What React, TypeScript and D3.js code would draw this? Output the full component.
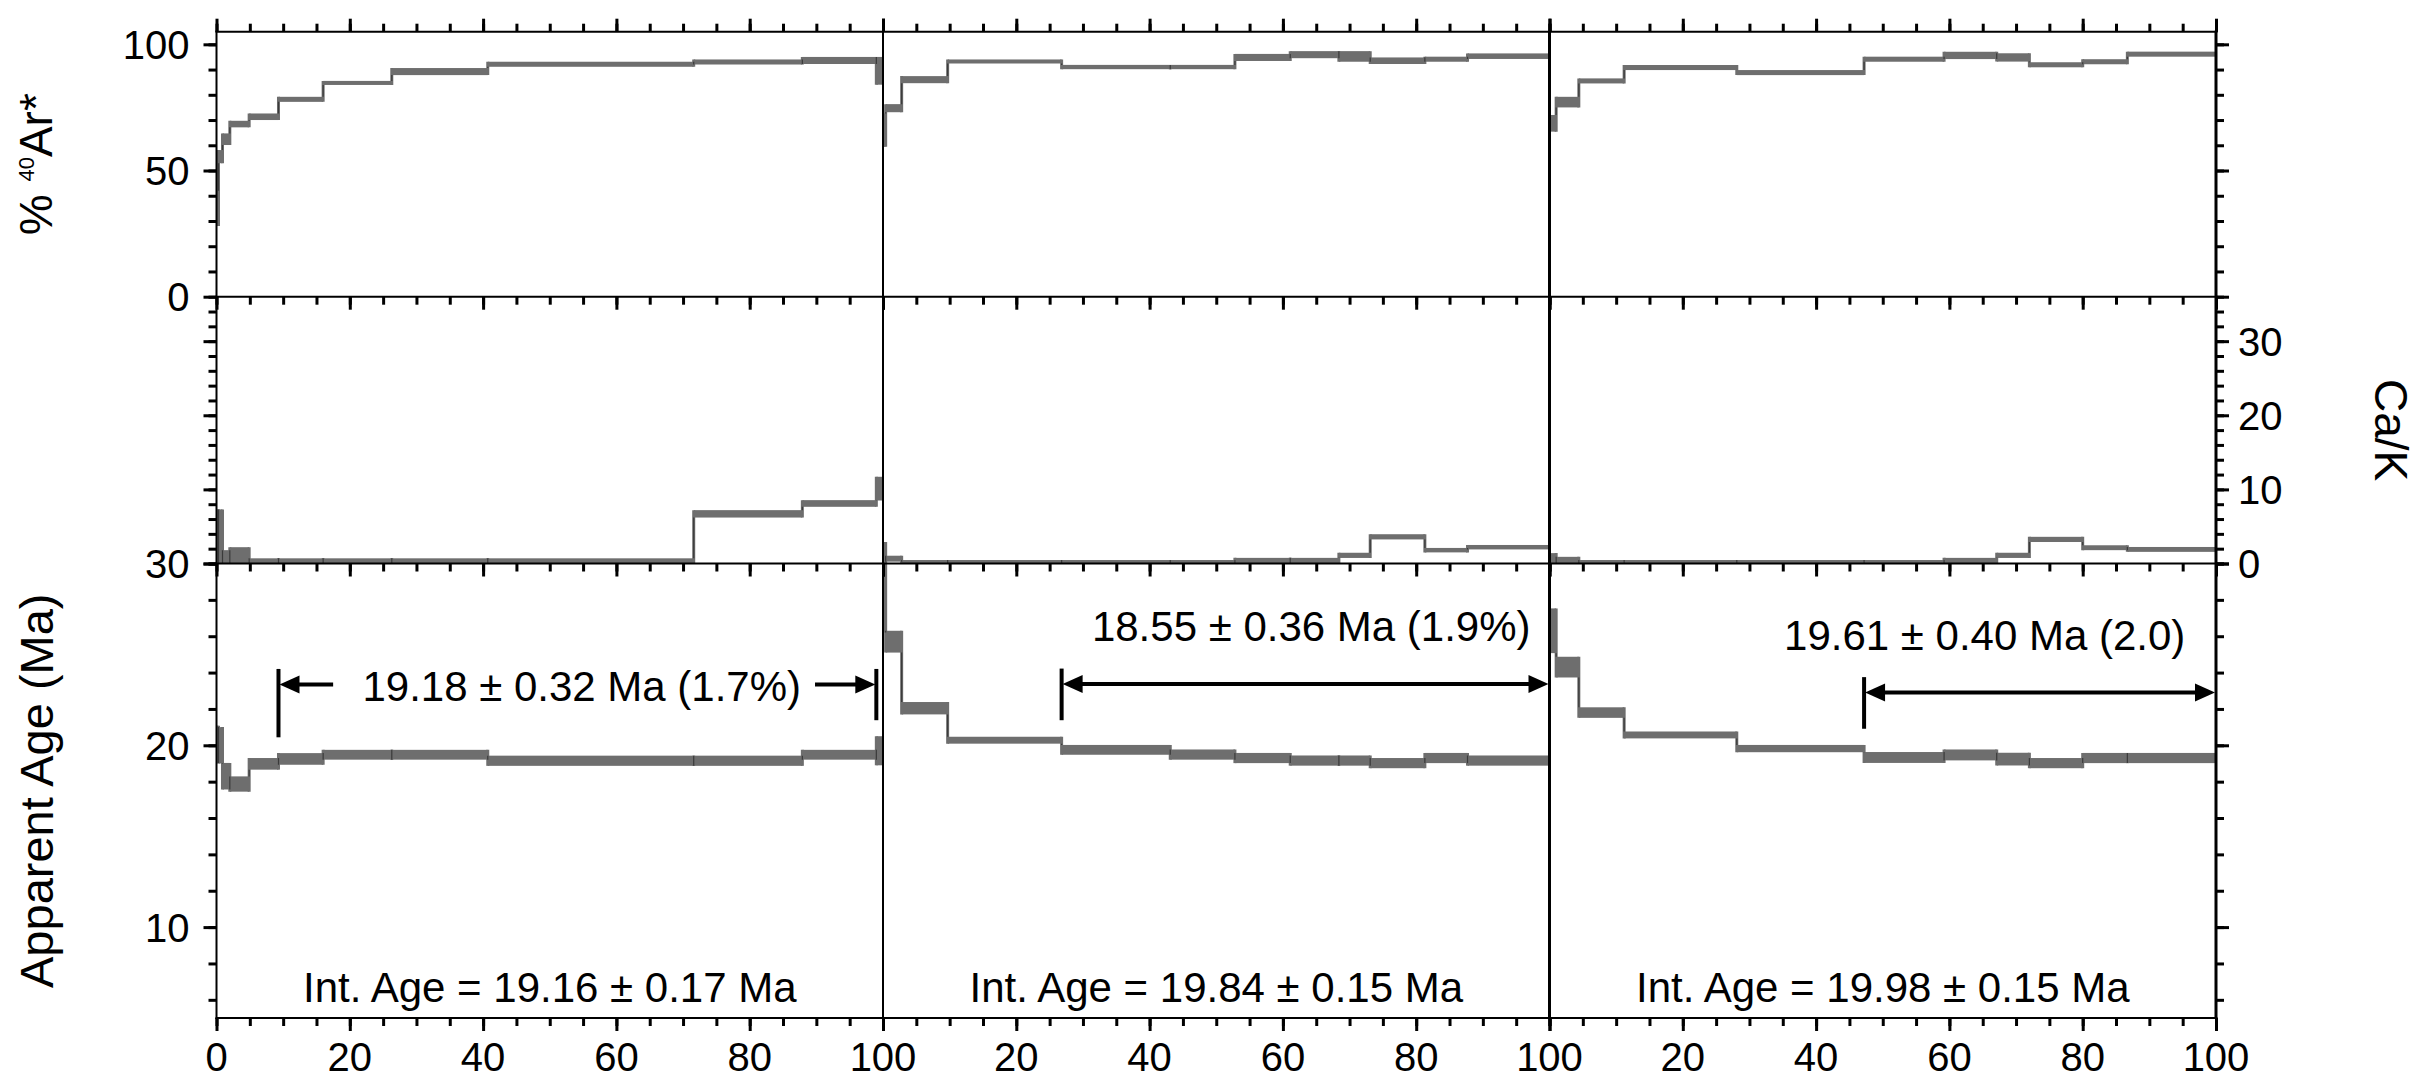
import React, { useEffect, useRef } from 'react';
import * as d3 from 'd3';

// step boundaries, cumulative % 39Ar released
const steps1 = [0, 0.3, 0.9, 2.0, 4.9, 9.3, 16.0, 26.3, 40.7, 71.6, 87.9, 99.0, 100];
const steps2 = [0, 0.4, 2.8, 9.7, 26.8, 43.1, 52.8, 61.1, 68.4, 73.1, 81.3, 87.7, 100];
const steps3 = [0, 1.0, 4.4, 11.2, 28.1, 47.2, 59.2, 67.1, 72.0, 80.0, 86.7, 100];

// % radiogenic 40Ar
const ar1 = [35, 55.5, 62.4, 68.4, 71.3, 78.2, 84.7, 89.2, 92.1, 93.0, 93.6, 89.5];
const ar1Err = [7, 2.6, 2.3, 1.3, 1.3, 1.0, 0.8, 1.4, 1.0, 1.0, 1.4, 5.5];
const ar2 = [66, 74.7, 86.0, 93.2, 91.0, 91.0, 94.8, 95.9, 95.2, 93.5, 94.1, 95.3];
const ar2Err = [6.6, 1.6, 1.4, 0.8, 0.85, 0.85, 1.4, 1.4, 2.1, 1.3, 1.0, 1.1];
const ar3 = [68.7, 77.1, 85.5, 90.8, 88.8, 94.1, 95.6, 94.8, 91.9, 93.1, 96.1];
const ar3Err = [3.3, 2.1, 1.0, 1.0, 1.0, 1.0, 1.45, 1.65, 1.0, 1.0, 1.0];

// Ca/K
const caK1 = [3.65, 3.65, 0.9, 1.1, 0.35, 0.35, 0.35, 0.35, 0.35, 6.7, 8.1, 10.1];
const caK1Err = [3.65, 3.65, 0.9, 1.1, 0.35, 0.35, 0.35, 0.35, 0.35, 0.5, 0.45, 1.6];
const caK2 = [1.45, 0.65, 0.2, 0.2, 0.2, 0.2, 0.38, 0.38, 1.1, 3.6, 1.8, 2.2];
const caK2Err = [1.45, 0.4, 0.2, 0.2, 0.2, 0.2, 0.38, 0.38, 0.35, 0.35, 0.3, 0.3];
const caK3 = [0.7, 0.45, 0.2, 0.2, 0.2, 0.2, 0.38, 1.1, 3.25, 2.13, 1.9];
const caK3Err = [0.7, 0.45, 0.2, 0.2, 0.2, 0.2, 0.38, 0.35, 0.35, 0.33, 0.33];

// apparent age (Ma)
const age1 = [20.05, 20.0, 18.3, 17.87, 18.98, 19.25, 19.48, 19.48, 19.15, 19.15, 19.48, 19.7];
const age1Err = [1.03, 1.0, 0.73, 0.42, 0.32, 0.32, 0.27, 0.27, 0.28, 0.28, 0.27, 0.8];
const age2 = [28.5, 25.7, 22.04, 20.28, 19.75, 19.49, 19.3, 19.16, 19.16, 19.02, 19.3, 19.16];
const age2Err = [2.3, 0.6, 0.34, 0.19, 0.27, 0.28, 0.28, 0.28, 0.28, 0.28, 0.28, 0.28];
const age3 = [26.3, 24.3, 21.8, 20.57, 19.82, 19.33, 19.47, 19.24, 19.02, 19.3, 19.3];
const age3Err = [1.23, 0.57, 0.29, 0.19, 0.2, 0.3, 0.3, 0.35, 0.28, 0.28, 0.28];

// plateau annotations
const plateauLabel = ['19.18 ± 0.32 Ma (1.7%)', '18.55 ± 0.36 Ma (1.9%)', '19.61 ± 0.40 Ma (2.0)'];
const intAgeLabel = ['Int. Age = 19.16 ± 0.17 Ma', 'Int. Age = 19.84 ± 0.15 Ma', 'Int. Age = 19.98 ± 0.15 Ma'];
const plateauFrom = [9.3, 26.8, 47.2];
const plateauTo = [99.0, 100, 100];
const plateauArrowAge = [23.34, 23.37, 22.9];
const plateauBarTop = [24.2, 24.22, 23.75];
const plateauBarBottom = [20.44, 21.38, 20.91];
const plateauEndBarBottom = [21.38, null, null];
const plateauGap = [[17.5, 89.8], null, null];
const plateauLabelX = [54.8, 64.25, 65.3];
const plateauLabelAge = [22.42, 25.74, 25.26];

// ticks
const xTicksMinor = d3.range(0, 101, 5);
const xTicksMajor = [0, 20, 40, 60, 80, 100];
const arTicksMinor = d3.range(0, 101, 10);
const arTicksMajor = [0, 50, 100];
const caTicksMinor = d3.range(0, 35, 2);
const caTicksMajor = [0, 10, 20, 30];
const ageTicksMinor = d3.range(6, 31, 2);
const ageTicksMajor = [10, 20, 30];

const samples = [
  { steps: steps1, ar: ar1, arErr: ar1Err, ca: caK1, caErr: caK1Err, age: age1, ageErr: age1Err },
  { steps: steps2, ar: ar2, arErr: ar2Err, ca: caK2, caErr: caK2Err, age: age2, ageErr: age2Err },
  { steps: steps3, ar: ar3, arErr: ar3Err, ca: caK3, caErr: caK3Err, age: age3, ageErr: age3Err },
];

const W = 2428;
const H = 1079;
const FONT = '"Liberation Sans", Arial, Helvetica, sans-serif';
const GRAY = '#6e6e6e';

const App = () => {
  const ref = useRef<SVGSVGElement | null>(null);

  useEffect(() => {
    if (!ref.current) return;
    const svg = d3.select(ref.current);
    svg.selectAll('*').remove();

    const left = 216.5;
    const panelW = 666.5;
    const right = left + 3 * panelW;

    const yAr = d3.scaleLinear().domain([0, 105]).range([296.7, 31.7]);
    const yCa = d3.scaleLinear().domain([0, 36]).range([563.5, 296.7]);
    const yAge = d3.scaleLinear().domain([5, 30]).range([1018, 563.5]);
    const top = yAr.range()[1];
    const bottom = yAge.range()[0];

    const xs = samples.map((_, i) =>
      d3.scaleLinear().domain([0, 100]).range([left + i * panelW, left + (i + 1) * panelW])
    );

    const rows = [
      { y: yAr, v: 'ar', e: 'arErr' },
      { y: yCa, v: 'ca', e: 'caErr' },
      { y: yAge, v: 'age', e: 'ageErr' },
    ];

    const defs = svg.append('defs');
    const MINH = 4;

    // step spectra
    samples.forEach((s: any, i) => {
      const x = xs[i];
      rows.forEach((r, k) => {
        const [y0, y1] = r.y.range();
        const id = `clip-${i}-${k}`;
        defs.append('clipPath').attr('id', id)
          .append('rect')
          .attr('x', x(0)).attr('y', y1)
          .attr('width', x(100) - x(0)).attr('height', y0 - y1);

        const g = svg.append('g').attr('clip-path', `url(#${id})`);
        const vals: number[] = s[r.v];
        const errs: number[] = s[r.e];
        const boxes = vals.map((v, j) => ({
          x0: s.steps[j], x1: s.steps[j + 1], hi: v + errs[j], lo: v - errs[j],
        }));
        const yHi = (d: any) => Math.min(r.y(d.hi), (r.y(d.hi) + r.y(d.lo)) / 2 - MINH / 2);
        const yLo = (d: any) => Math.max(r.y(d.lo), (r.y(d.hi) + r.y(d.lo)) / 2 + MINH / 2);

        // connectors between neighbouring steps
        g.selectAll('line.link')
          .data(boxes.slice(1).map((b, j) => ({ at: b.x0, a: boxes[j], b })))
          .enter().append('line')
          .attr('class', 'link')
          .attr('x1', d => x(d.at)).attr('x2', d => x(d.at))
          .attr('y1', d => Math.min(yHi(d.a), yHi(d.b)))
          .attr('y2', d => Math.max(yLo(d.a), yLo(d.b)))
          .attr('stroke', GRAY)
          .attr('stroke-width', 3);

        g.selectAll('rect.box')
          .data(boxes)
          .enter().append('rect')
          .attr('class', 'box')
          .attr('x', d => x(d.x0))
          .attr('width', d => Math.max(x(d.x1) - x(d.x0), 2))
          .attr('y', d => yHi(d))
          .attr('height', d => yLo(d) - yHi(d))
          .attr('fill', GRAY);

        // darker step edges
        g.selectAll('line.edge')
          .data(boxes.slice(1).map((b, j) => ({ at: b.x0, a: boxes[j], b })))
          .enter().append('line')
          .attr('class', 'edge')
          .attr('x1', d => x(d.at)).attr('x2', d => x(d.at))
          .attr('y1', d => Math.max(yHi(d.a), yHi(d.b)))
          .attr('y2', d => Math.min(yLo(d.a), yLo(d.b)))
          .attr('stroke', '#3a3a3a')
          .attr('stroke-width', 1.2);
      });
    });

    // frame
    const frame = svg.append('g').attr('stroke', '#000').attr('fill', 'none');
    [top, yAr(0), yAge(30), bottom].forEach(yy => {
      frame.append('line').attr('x1', left - 1).attr('x2', right + 1.5)
        .attr('y1', yy).attr('y2', yy).attr('stroke-width', 2);
    });
    [[left, 2], [left + panelW, 2], [left + 2 * panelW, 3], [right, 3]].forEach(([xx, w]) => {
      frame.append('line').attr('x1', xx).attr('x2', xx)
        .attr('y1', top - 1).attr('y2', bottom + 1).attr('stroke-width', w);
    });

    const ticks = (axis: any, tx: number, ty: number) => {
      const g = svg.append('g').attr('transform', `translate(${tx},${ty})`).call(axis);
      g.select('.domain').remove();
      g.selectAll('line').attr('stroke', '#000').attr('stroke-width', 3);
      g.selectAll('text').remove();
    };
    const pair = (make: any, scale: any, minor: number[], major: number[], tx: number, ty: number) => {
      ticks(make(scale).tickValues(minor).tickSize(8).tickSizeOuter(0), tx, ty);
      ticks(make(scale).tickValues(major).tickSize(13).tickSizeOuter(0), tx, ty);
    };

    // x ticks on each horizontal border
    xs.forEach(x => {
      pair(d3.axisTop, x, xTicksMinor, xTicksMajor, 0, top);
      pair(d3.axisBottom, x, xTicksMinor, xTicksMajor, 0, yAr(0));
      pair(d3.axisBottom, x, xTicksMinor, xTicksMajor, 0, yAge(30));
      pair(d3.axisBottom, x, xTicksMinor, xTicksMajor, 0, bottom);
    });

    // y ticks both sides
    pair(d3.axisLeft, yAr, arTicksMinor, arTicksMajor, left, 0);
    pair(d3.axisLeft, yCa, caTicksMinor, caTicksMajor, left, 0);
    pair(d3.axisLeft, yAge, ageTicksMinor, ageTicksMajor, left, 0);
    pair(d3.axisRight, yAr, arTicksMinor, arTicksMajor, right, 0);
    pair(d3.axisRight, yCa, caTicksMinor, caTicksMajor, right, 0);
    pair(d3.axisRight, yAge, ageTicksMinor, ageTicksMajor, right, 0);

    const labels = svg.append('g').attr('font-family', FONT).attr('font-size', 40).attr('fill', '#000');

    // x tick labels (0 shared at panel joins)
    xs.forEach((x, i) => {
      labels.selectAll(null)
        .data(xTicksMajor.filter(t => i === 0 || t > 0))
        .enter().append('text')
        .attr('x', d => x(d)).attr('y', 1071)
        .attr('text-anchor', 'middle')
        .text(d => d);
    });

    labels.selectAll(null)
      .data(arTicksMajor)
      .enter().append('text')
      .attr('x', left - 27).attr('y', d => yAr(d)).attr('dy', '0.36em')
      .attr('text-anchor', 'end').text(d => d);
    labels.selectAll(null)
      .data(ageTicksMajor)
      .enter().append('text')
      .attr('x', left - 27).attr('y', d => yAge(d)).attr('dy', '0.36em')
      .attr('text-anchor', 'end').text(d => d);
    labels.selectAll(null)
      .data(caTicksMajor)
      .enter().append('text')
      .attr('x', right + 22).attr('y', d => yCa(d)).attr('dy', '0.36em')
      .attr('text-anchor', 'start').text(d => d);

    // axis titles
    const t1 = svg.append('text')
      .attr('transform', `translate(52,${(yAr(0) + top) / 2}) rotate(-90)`)
      .attr('text-anchor', 'middle').attr('font-family', FONT).attr('font-size', 46);
    t1.append('tspan').text('% ');
    t1.append('tspan').attr('font-size', 22).attr('dy', -18).text('40');
    t1.append('tspan').attr('dy', 18).text('Ar*');

    svg.append('text')
      .attr('transform', `translate(53,${(yAge(30) + bottom) / 2}) rotate(-90)`)
      .attr('text-anchor', 'middle').attr('font-family', FONT).attr('font-size', 47)
      .text('Apparent Age (Ma)');

    svg.append('text')
      .attr('transform', `translate(2375,${(yCa(0) + yAr(0)) / 2}) rotate(90)`)
      .attr('text-anchor', 'middle').attr('font-family', FONT).attr('font-size', 46)
      .text('Ca/K');

    // plateau arrows and ages
    const ann = svg.append('g');
    const head = (xt: number, yy: number, dir: number) => {
      ann.append('path')
        .attr('d', `M${xt},${yy}L${xt - dir * 20},${yy - 9}L${xt - dir * 20},${yy + 9}Z`)
        .attr('fill', '#000');
    };
    const shaft = (xa: number, xb: number, yy: number) => {
      ann.append('line').attr('x1', xa).attr('x2', xb).attr('y1', yy).attr('y2', yy)
        .attr('stroke', '#000').attr('stroke-width', 4);
    };
    const bar = (xx: number, a: number, b: number) => {
      ann.append('line').attr('x1', xx).attr('x2', xx)
        .attr('y1', yAge(a)).attr('y2', yAge(b))
        .attr('stroke', '#000').attr('stroke-width', 4);
    };

    xs.forEach((x, i) => {
      const ay = yAge(plateauArrowAge[i]);
      const xa = x(plateauFrom[i]);
      const xb = x(plateauTo[i]);
      bar(xa, plateauBarTop[i], plateauBarBottom[i]);
      const endBottom = plateauEndBarBottom[i];
      if (endBottom !== null) bar(xb, plateauBarTop[i], endBottom);
      const gap = plateauGap[i];
      head(xa + 1, ay, -1);
      head(xb - 1, ay, 1);
      if (gap) {
        shaft(xa + 12, x(gap[0]), ay);
        shaft(x(gap[1]), xb - 12, ay);
      } else {
        shaft(xa + 12, xb - 12, ay);
      }

      ann.append('text')
        .attr('x', x(plateauLabelX[i])).attr('y', yAge(plateauLabelAge[i]))
        .attr('text-anchor', 'middle').attr('font-family', FONT).attr('font-size', 42)
        .text(plateauLabel[i]);

      ann.append('text')
        .attr('x', x(50)).attr('y', 1002)
        .attr('text-anchor', 'middle').attr('font-family', FONT).attr('font-size', 42)
        .text(intAgeLabel[i]);
    });
  }, []);

  return (
    <svg
      ref={ref}
      width={W}
      height={H}
      style={{ position: 'absolute', left: 0, top: 0, background: '#fff' }}
    />
  );
};

export default App;
